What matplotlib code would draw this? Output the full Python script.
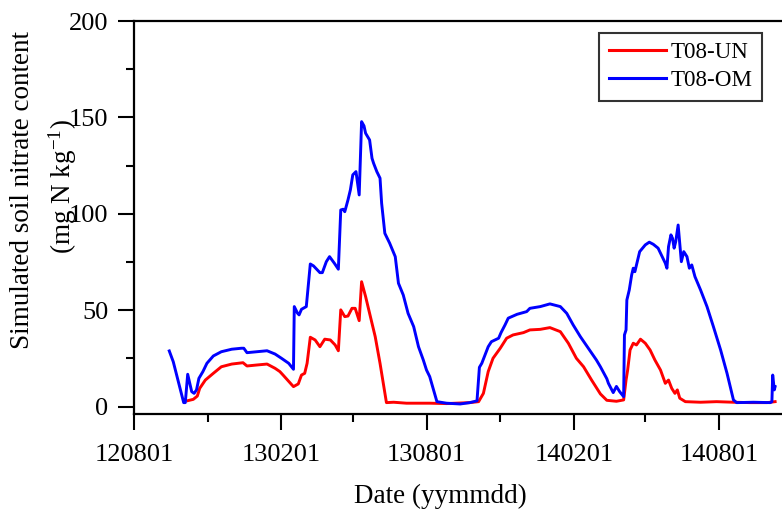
import matplotlib
matplotlib.use("Agg")
import matplotlib.pyplot as plt
import numpy as np
import pandas as pd

plt.rcParams['font.family'] = ['Liberation Serif', 'DejaVu Serif']
plt.rcParams['mathtext.fontset'] = 'custom'
plt.rcParams['mathtext.rm'] = 'Liberation Serif'
plt.rcParams['mathtext.it'] = 'Liberation Serif:italic'

start_date = "2012-08-01"

# days after start_date, simulated nitrate (mg N kg-1)
un_days = [67, 74, 79, 82, 89, 99, 109, 122, 136, 141, 153, 166, 176, 182, 186, 197, 199,
           205, 209, 213, 216, 220, 226, 232, 238, 245, 251, 255, 258, 263, 267, 272, 276,
           281, 284, 289, 294, 301, 307, 315, 324, 340, 369, 390, 419, 430, 436, 442, 448,
           457, 465, 473, 486, 494, 507, 519, 532, 542, 552, 561, 571, 582, 590, 602, 611,
           614, 616, 619, 623, 627, 632, 638, 644, 650, 657, 663, 667, 671, 675, 678, 681,
           688, 707, 727, 748, 769, 790, 800]
un_vals = [3.1, 3.8, 5.5, 9.5, 13.8, 17.3, 20.7, 22.1, 22.8, 21.1, 21.6, 22.1, 19.9, 18.2,
           16.4, 11.3, 10.4, 11.8, 16.4, 17.3, 22.5, 36.0, 34.6, 31.1, 35.0, 34.6, 32.0, 29.0,
           50.2, 46.7, 47.0, 51.0, 51.0, 44.6, 64.8, 57.1, 48.4, 36.3, 22.5, 2.1, 2.3, 1.8,
           1.8, 1.6, 2.1, 2.6, 6.9, 18.2, 25.1, 30.3, 35.5, 37.2, 38.4, 39.8, 40.1, 41.0,
           38.9, 32.9, 25.1, 20.7, 13.8, 6.6, 3.3, 2.8, 3.5, 13.8, 19.0, 29.4, 32.9, 32.0,
           35.0, 32.9, 29.4, 24.2, 19.0, 12.1, 13.8, 9.5, 6.9, 8.7, 4.4, 2.6, 2.3, 2.6, 2.3,
           2.1, 2.1, 2.6]

om_days = [44, 49, 62, 64, 67, 72, 75, 78, 81, 86, 91, 99, 109, 122, 134, 137, 141, 153,
           166, 176, 184, 193, 199, 200, 204, 206, 209, 215, 220, 224, 232, 235, 240, 244,
           247, 250, 255, 258, 261, 263, 267, 270, 273, 277, 281, 284, 287, 289, 294, 297,
           299, 303, 307, 309, 313, 319, 326, 330, 336, 342, 349, 355, 361, 365, 369, 378,
           390, 407, 419, 428, 431, 434, 438, 442, 446, 455, 458, 463, 467, 478, 490, 494,
           507, 519, 532, 540, 548, 557, 567, 577, 582, 590, 592, 598, 602, 606, 611, 612,
           614, 615, 618, 621, 623, 625, 628, 631, 638, 643, 648, 654, 658, 663, 665, 667,
           670, 672, 674, 676, 679, 681, 683, 686, 690, 693, 696, 700, 707, 715, 723, 732,
           740, 748, 752, 773, 794, 796, 797, 799, 800]
om_vals = [28.9, 23.3, 2.1, 2.1, 16.8, 7.8, 6.9, 8.7, 14.7, 18.2, 22.5, 26.3, 28.5, 29.8,
           30.3, 30.3, 28.0, 28.5, 29.0, 27.3, 25.1, 22.5, 19.4, 51.9, 48.5, 47.6, 50.5, 51.9,
           74.0, 73.0, 69.5, 69.5, 75.2, 77.8, 76.1, 74.4, 71.3, 102.0, 102.4, 101.1, 107.2,
           112.4, 120.2, 121.9, 109.8, 147.8, 145.6, 141.8, 138.3, 128.8, 126.2, 121.9, 118.5,
           105.5, 89.9, 84.8, 77.8, 64.0, 57.9, 48.4, 41.5, 31.1, 24.2, 19.0, 15.6, 2.6, 1.8,
           1.4, 2.1, 3.0, 20.4, 22.5, 26.8, 31.1, 33.7, 35.5, 38.4, 42.4, 45.9, 47.9, 49.3,
           51.0, 51.9, 53.3, 51.9, 48.4, 42.4, 36.3, 30.3, 24.2, 20.7, 14.5, 12.1, 7.3, 10.5,
           7.8, 5.2, 37.2, 39.8, 55.3, 60.5, 68.3, 71.8, 70.0, 75.2, 80.4, 83.9, 85.3, 84.2,
           82.2, 78.7, 74.4, 71.8, 83.0, 89.1, 87.3, 82.2, 85.6, 94.2, 84.8, 75.2, 80.4, 77.8,
           71.8, 73.5, 67.4, 60.5, 51.9, 41.5, 29.4, 17.3, 3.5, 2.1, 2.3, 2.1, 2.6, 16.4, 8.7,
           10.4]

series_labels = ["T08-UN", "T08-OM"]
series_colors = ["#ff0000", "#0000ff"]
tick_dates = ["2012-08-01", "2013-02-01", "2013-08-01", "2014-02-01", "2014-08-01"]
tick_labels = ["120801", "130201", "130801", "140201", "140801"]
minor_dates = ["2012-11-01", "2013-05-01", "2013-11-01", "2014-05-01"]

t0 = pd.Timestamp(start_date)
un_t = t0 + pd.to_timedelta(un_days, unit="D")
om_t = t0 + pd.to_timedelta(om_days, unit="D")

fig = plt.figure(figsize=(7.82, 5.16), dpi=100)
ax = fig.add_axes([134/782, 1-414/516, 1-134/782, (414-21)/516])

ax.plot(un_t, un_vals, color=series_colors[0], lw=2.1, label=series_labels[0])
ax.plot(om_t, om_vals, color=series_colors[1], lw=2.1, label=series_labels[1])

ax.set_xlim(t0, t0 + pd.Timedelta(days=808.6))
ax.set_ylim(-3.8, 200)

ax.set_xticks(pd.to_datetime(tick_dates))
ax.set_xticklabels(tick_labels)
ax.set_xticks(pd.to_datetime(minor_dates), minor=True)
ax.set_yticks([0, 50, 100, 150, 200])
ax.set_yticks([25, 75, 125, 175], minor=True)

ax.tick_params(axis='both', which='major', direction='out', length=11.5, width=1.5,
               labelsize=19, pad=7)
ax.tick_params(axis='x', which='major', pad=10)
ax.tick_params(axis='both', which='minor', direction='out', length=6, width=1.5)
for s in ['left', 'bottom', 'top']:
    ax.spines[s].set_linewidth(1.6)
ax.spines['right'].set_visible(False)

fig.text(440/782, 1-496/516, "Date (yymmdd)", ha='center', va='center', fontsize=19.5)
fig.text(23/782, 1-190/516, "Simulated soil nitrate content", rotation=90,
         ha='center', va='center', fontsize=19.5)
fig.text(63/782, 1-187/516, "(mg N kg$^{-1}$)", rotation=90,
         ha='center', va='center', fontsize=19.5)

leg = ax.legend(loc='upper right', bbox_to_anchor=(762/782, 1-33/516),
                bbox_transform=fig.transFigure, borderaxespad=0, fontsize=16.6,
                frameon=True, fancybox=False, handlelength=2.5, handletextpad=0.2,
                labelspacing=0.3, borderpad=0.4)
leg.get_frame().set_edgecolor('black')
leg.get_frame().set_linewidth(1.5)
for line in leg.get_lines():
    line.set_linewidth(2.2)

fig.savefig("out.png", dpi=100)
